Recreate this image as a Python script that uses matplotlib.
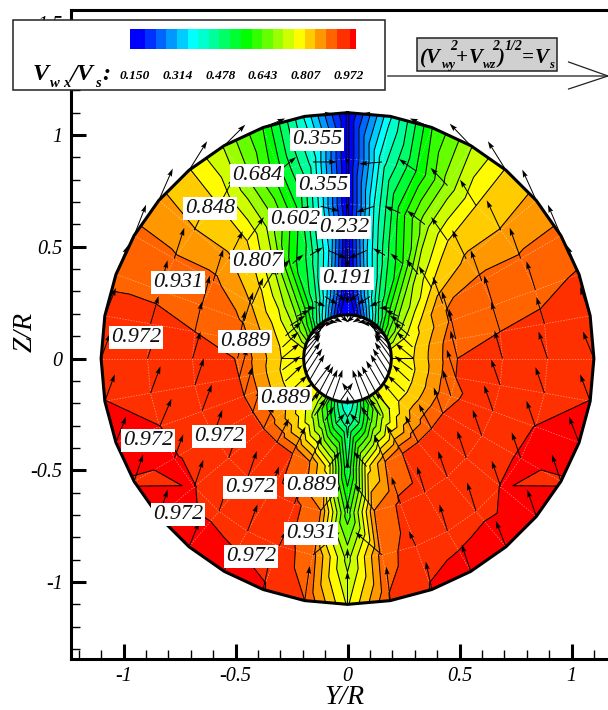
import numpy as np
import matplotlib
matplotlib.use('Agg')
import matplotlib.pyplot as plt
import matplotlib.tri as mtri
from matplotlib.colors import LinearSegmentedColormap, ListedColormap
from matplotlib.patches import Rectangle
from matplotlib.ticker import FixedLocator, MultipleLocator

plt.rcParams['font.family'] = ['Liberation Serif', 'DejaVu Serif']

# ring radii in Y/R, nodes every 10 deg clockwise from the top
ring_r = [0.196, 0.295, 0.491, 0.692, 0.893, 1.10]
theta_deg = np.arange(0, 360, 10)

# Vwx/Vs at the nodes, one list per ring: 0..180 deg, then -170..-10 deg
vwx_r0 = [.12, .15, .25, .35, .45, .55, .63, .71, .78, .807, .80, .79, .79, .79, .76, .70, .55, .45, .39,
          .45, .55, .70, .76, .79, .79, .79, .80, .807, .78, .71, .63, .55, .45, .35, .25, .15]
vwx_r1 = [.13, .25, .38, .50, .60, .68, .74, .78, .80, .807, .80, .80, .80, .805, .77, .71, .63, .52, .46,
          .52, .63, .71, .77, .805, .80, .80, .80, .807, .80, .78, .74, .68, .60, .50, .38, .25]
vwx_r2 = [.13, .35, .50, .60, .74, .81, .885, .895, .925, .931, .931, .925, .931, .933, .933, .931, .889, .79, .52,
          .79, .889, .931, .933, .933, .935, .931, .931, .93, .915, .885, .845, .80, .72, .58, .50, .36]
vwx_r3 = [.14, .40, .58, .71, .805, .855, .90, .92, .931, .945, .95, .955, .96, .96, .955, .95, .94, .89, .62,
          .89, .945, .95, .96, .96, .955, .955, .95, .945, .931, .92, .90, .855, .805, .71, .58, .38]
vwx_r4 = [.14, .42, .56, .70, .807, .85, .895, .92, .94, .955, .96, .9725, .974, .9725, .965, .96, .955, .91, .71,
          .905, .955, .96, .965, .9725, .974, .9725, .96, .955, .94, .925, .895, .85, .807, .70, .57, .42]
vwx_r5 = [.14, .39, .60, .72, .81, .86, .90, .935, .95, .955, .9725, .985, .970, .985, .99, .985, .975, .935, .76,
          .931, .975, .985, .99, .985, .970, .985, .9725, .945, .94, .925, .90, .86, .81, .72, .60, .39]

# in-plane velocity, same node order (1 unit = 1 pixel of arrow)
vy_r0 = [0, -9, -10, -12, -14, -14, -15, -15, -16, -17, -16, -16, -15, -15, -14, -12, -10, -13, 0,
         13, 10, 12, 14, 17, 15, 16, 16, 17, 16, 15, 15, 14, 14, 12, 10, 9]
vz_r0 = [-4, -7, -5, -2, 2, 8, 12, 14, 18, 24, 24, 25, 26, 26, 26, 27, 30, 19, 6,
         19, 30, 27, 26, 23, 26, 25, 24, 24, 18, 14, 12, 8, 2, -2, -5, -7]
vy_r1 = [0, -10, -13, -11, -11, -13, -15, -16, -16, -18, -18, -17, -17, -15, -15, -11, -9, -9, 0,
         9, 9, 11, 15, 15, 17, 17, 18, 18, 16, 16, 15, 13, 11, 11, 13, 10]
vz_r1 = [-12, -8, -8, -5, 0, 6, 10, 14, 15, 15, 14, 16, 16, 18, 17, 17, 14, 10, 8,
         10, 14, 17, 17, 18, 16, 16, 14, 15, 15, 14, 10, 6, 0, -5, -8, -8]
vy_r2 = [0, -18, -12, -12, -12, -13, -10, -9, -7, -7, -9, -8, -9, -13, -13, -16, -11, -13, 0,
         12, 12, 13, 12, 11, 8, 8, 8, 7, 6, 9, 11, 13, 13, 11, 13, 18]
vz_r2 = [-20, -8, 7, 10, 15, 22, 27, 30, 31, 28, 28, 26, 26, 25, 27, 28, 27, 15, 8,
         15, 25, 27, 24, 24, 24, 29, 30, 28, 29, 29, 26, 21, 15, 9, 8, -8]
vy_r3 = [0, -18, -16, -18, -16, -14, -11, -9, -9, -8, -9, -9, -9, -9, -9, -8, -9, -20, 0,
         20, 9, 9, 9, 9, 9, 10, 9, 8, 7, 8, 10, 14, 16, 17, 15, 19]
vz_r3 = [-6, -6, 7, 14, 23, 29, 31, 30, 30, 28, 26, 26, 26, 27, 26, 26, 27, 27, 12,
         25, 27, 26, 26, 26, 26, 27, 27, 27, 30, 30, 32, 28, 23, 14, 7, -5]
vy_r4 = [0, -23, -17, -17, -16, -14, -11, -9, -8, -9, -9, -9, -9, -9, -9, -8, -7, -27, 0,
         27, 7, 10, 9, 9, 9, 12, 10, 9, 8, 8, 10, 14, 15, 17, 17, 24]
vz_r4 = [-4, -2, 12, 18, 26, 30, 31, 29, 27, 27, 26, 26, 26, 26, 29, 27, 15, 23, 10,
         23, 15, 27, 27, 27, 24, 28, 27, 27, 28, 30, 31, 30, 28, 18, 14, 0]
vy_r5 = [0, -28, -22, -21, -18, -14, -13, -12, -10, -11, -10, -10, -9, -9, -10, -9, -6, -4, 0,
         5, 7, 9, 10, 9, 9, 10, 10, 9, 11, 12, 12, 14, 18, 21, 22, 28]
vz_r5 = [0, 3, 9, 22, 29, 31, 31, 29, 29, 27, 27, 26, 27, 27, 26, 27, 28, 34, 33,
         35, 33, 26, 25, 27, 27, 26, 27, 25, 28, 29, 31, 32, 29, 21, 9, 3]

levels = [0.150, 0.191, 0.232, 0.273, 0.314, 0.355, 0.396, 0.437, 0.478, 0.519, 0.561,
          0.602, 0.643, 0.684, 0.725, 0.766, 0.807, 0.848, 0.889, 0.931, 0.972]
bar_labels = ['0.150', '0.314', '0.478', '0.643', '0.807', '0.972']

label_text = ['0.355', '0.355', '0.684', '0.848', '0.602', '0.232', '0.807', '0.191', '0.931', '0.972',
              '0.889', '0.889', '0.972', '0.972', '0.972', '0.889', '0.972', '0.931', '0.972']
label_y = [-.136, -.109, -.404, -.614, -.234, -.016, -.404, -.002, -.757, -.944,
           -.458, -.279, -.891, -.574, -.435, -.163, -.757, -.163, -.431]
label_z = [.980, .772, .821, .673, .624, .588, .436, .360, .342, .092,
           .074, -.177, -.369, -.347, -.579, -.570, -.700, -.781, -.884]

W, H = 608, 710
rainbow = LinearSegmentedColormap.from_list(
    'rainbow5', [(0, 0, 1), (0, 1, 1), (0, 1, 0), (1, 1, 0), (1, 0, 0)])
# one colour below the first level, then one per level
band_colors = [rainbow(0.0)] + [rainbow(k / 20) for k in range(21)]

# build the mesh
field = np.array([vwx_r0, vwx_r1, vwx_r2, vwx_r3, vwx_r4, vwx_r5])
vy = np.array([vy_r0, vy_r1, vy_r2, vy_r3, vy_r4, vy_r5], dtype=float)
vz = np.array([vz_r0, vz_r1, vz_r2, vz_r3, vz_r4, vz_r5], dtype=float)
nr, nt = field.shape
rr, tt = np.meshgrid(ring_r, np.radians(theta_deg), indexing='ij')
yy = rr * np.sin(tt)
zz = rr * np.cos(tt)

tris = []
for i in range(nr - 1):
    for j in range(nt):
        j2 = (j + 1) % nt
        a, b, c, d = i * nt + j, i * nt + j2, (i + 1) * nt + j2, (i + 1) * nt + j
        # mirror the cell diagonal left to right
        if j < nt // 2:
            tris.append([a, b, d])
            tris.append([b, c, d])
        else:
            tris.append([a, b, c])
            tris.append([a, c, d])
tri = mtri.Triangulation(yy.ravel(), zz.ravel(), np.array(tris))

fig = plt.figure(figsize=(W / 100, H / 100), dpi=100)
# left spine at 71 px, bottom at 658.5, top at 10, right side runs off the figure
ax = fig.add_axes([71 / W, (H - 658.5) / H, (W - 71) / W, (658.5 - 10) / H])
ax.set_xlim((71 - 347.5) / 224, (W - 347.5) / 224)
ax.set_ylim((358.5 - 658.5) / 223.5, (358.5 - 10) / 223.5)

ax.tricontourf(tri, field.ravel(), levels=levels, colors=band_colors, extend='both', zorder=1)

# mesh lines, faint white dashes
for i in range(nr):
    ax.plot(np.append(yy[i], yy[i, 0]), np.append(zz[i], zz[i, 0]), color='white', lw=0.5,
            ls=(0, (2, 2)), alpha=0.55, zorder=2)
for j in range(nt):
    ax.plot(yy[:, j], zz[:, j], color='white', lw=0.5, ls=(0, (2, 2)), alpha=0.55, zorder=2)

ax.tricontour(tri, field.ravel(), levels=levels, colors='black', linewidths=0.75, linestyles='solid', zorder=3)

ax.quiver(yy.ravel(), zz.ravel(), vy.ravel(), vz.ravel(), angles='xy', scale_units='xy', scale=224,
          units='dots', width=1.0, headwidth=5, headlength=8, headaxislength=7, color='black',
          zorder=4, clip_on=False)

ax.plot(np.append(yy[-1], yy[-1, 0]), np.append(zz[-1], zz[-1, 0]), color='black', lw=2.2, zorder=5)
ax.plot(np.append(yy[0], yy[0, 0]), np.append(zz[0], zz[0, 0]), color='black', lw=2.2, zorder=5)

for s, y, z in zip(label_text, label_y, label_z):
    ax.text(y, z, s, fontsize=16, style='italic', ha='center', va='center', color='#111111', zorder=6,
            bbox=dict(fc='white', ec='none', pad=1.4))

# axes
ax.spines['right'].set_visible(False)
for side in ['left', 'bottom', 'top']:
    ax.spines[side].set_linewidth(2.2)
ax.xaxis.set_major_locator(FixedLocator([-1, -0.5, 0, 0.5, 1]))
ax.set_xticklabels(['-1', '-0.5', '0', '0.5', '1'])
ax.yaxis.set_major_locator(FixedLocator([-1, -0.5, 0, 0.5, 1, 1.5]))
ax.set_yticklabels(['-1', '-0.5', '0', '0.5', '1', '1.5'])
ax.xaxis.set_minor_locator(MultipleLocator(0.1))
ax.yaxis.set_minor_locator(MultipleLocator(0.1))
ax.tick_params(which='major', direction='in', length=10.8, width=2.2, labelsize=14.5, pad=6)
ax.tick_params(which='minor', direction='in', length=6.5, width=1.0)
for t in ax.get_xticklabels() + ax.get_yticklabels():
    t.set_style('italic')

# everything placed in pixels goes on an overlay
lax = fig.add_axes([0, 0, 1, 1], zorder=10)
lax.set_xlim(0, W)
lax.set_ylim(H, 0)
lax.axis('off')
lax.patch.set_alpha(0)


def put(x, y, s, size, weight='bold', **kw):
    lax.text(x, y, s, fontsize=size, style='italic', weight=weight, ha='left', va='baseline', **kw)


lax.text(344, 698, 'Y/R', fontsize=20, style='italic', ha='center', va='center')
lax.text(25, 332, 'Z/R', fontsize=20, style='italic', ha='center', va='center', rotation=90)

# legend box and colour bar
lax.add_patch(Rectangle((12.8, 19.5), 372.2, 70, fc='white', ec='#222222', lw=1.1, zorder=1))
lev = np.array(levels)
bar_edges = np.concatenate([[130], 134.5 + (lev - 0.15) / 0.0411 * 10.65])
bar_edges[-1] = 349.7
bar_edges = np.append(bar_edges, 356)
lax.pcolormesh(bar_edges, [29, 49], np.arange(22).reshape(1, 22), cmap=ListedColormap(band_colors),
               vmin=-0.5, vmax=21.5, zorder=2)
for s, x in zip(bar_labels, [134.5, 177.4, 220.3, 263.2, 306.1, 349]):
    lax.text(x, 76, s, fontsize=9.6, style='italic', weight='bold', ha='center', va='center', zorder=3)
put(33, 80, 'V', 17.5, zorder=3)
put(50, 87, 'w', 10.5, zorder=3)
put(63, 87, 'x', 10.5, zorder=3)
put(70, 80, '/V', 17.5, zorder=3)
put(95, 87, 's', 10.5, zorder=3)
put(102, 80, ':', 17.5, zorder=3)

# reference vector
lax.add_patch(Rectangle((416.7, 37.5), 140.5, 33.5, fc='#d0d0d0', ec='#222222', lw=1.1, zorder=1))
put(420, 63, '(V', 15, zorder=3)
put(442, 68, 'wy', 9, zorder=3)
put(450, 50, '2', 10, zorder=3)
put(456, 63, '+', 15, zorder=3)
put(469, 63, 'V', 15, zorder=3)
put(483, 68, 'wz', 9, zorder=3)
put(492, 50, '2', 10, zorder=3)
put(498, 63, ')', 15, zorder=3)
put(505, 50, '1/2', 10, zorder=3)
put(522, 63, '=', 15, zorder=3)
put(535, 63, 'V', 15, zorder=3)
put(549, 68, 's', 9, zorder=3)
lax.plot([388, 608], [76, 76], color='#444444', lw=1.1)
lax.plot([568.6, 608, 568.6], [62, 76, 89], color='#222222', lw=0.9)

fig.savefig('out.png', dpi=100)
